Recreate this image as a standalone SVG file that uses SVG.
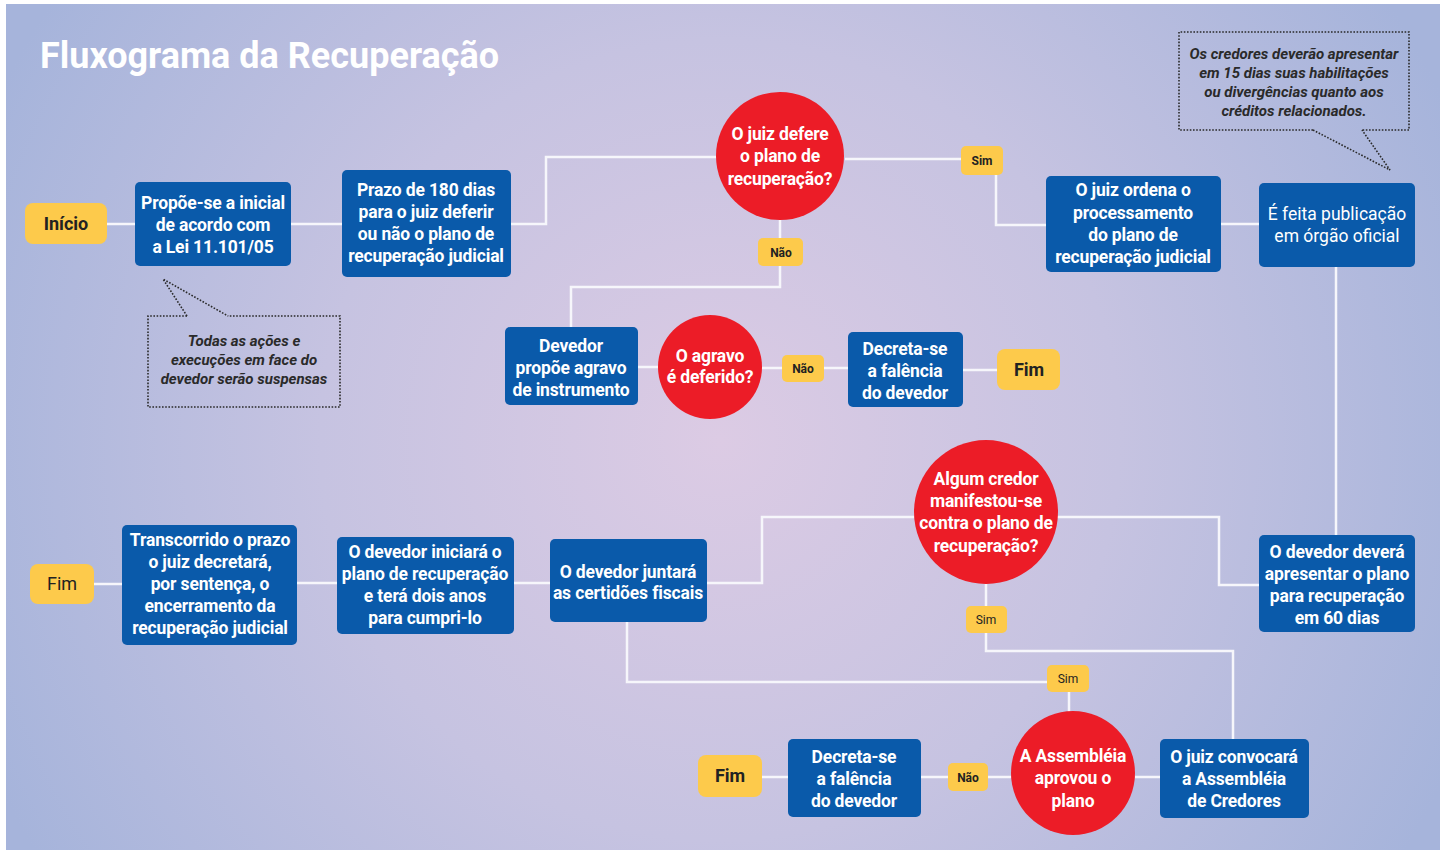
<svg xmlns="http://www.w3.org/2000/svg" width="1442" height="854" viewBox="0 0 1442 854">
<defs>
<radialGradient id="bg" gradientUnits="userSpaceOnUse" cx="720" cy="440" r="800">
<stop offset="0" stop-color="#dccbe4"/>
<stop offset="0.5" stop-color="#c6c3e1"/>
<stop offset="1" stop-color="#a6b4db"/>
</radialGradient>
<style>
.box{fill:#0a5aaa}
.dec{fill:#ec1c27}
.lab{fill:#fdca4b}
.ln{fill:none;stroke:#f6f6fb;stroke-width:2.5}
.dot{fill:none;stroke:#2a2a2a;stroke-width:1.6;stroke-dasharray:1.6 1.6}
.bt{font-family:Roboto,"Liberation Sans",sans-serif;font-weight:700;font-size:17.5px;letter-spacing:-0.15px;fill:#fff;text-anchor:middle}
.rt{font-family:Roboto,"Liberation Sans",sans-serif;font-weight:400;font-size:17.5px;fill:#fff;text-anchor:middle}
.yt{font-family:Roboto,"Liberation Sans",sans-serif;font-weight:700;font-size:18px;fill:#222;text-anchor:middle}
.yr{font-family:Roboto,"Liberation Sans",sans-serif;font-weight:400;font-size:18px;fill:#222;text-anchor:middle}
.st{font-family:Roboto,"Liberation Sans",sans-serif;font-weight:700;font-size:12px;fill:#222;text-anchor:middle}
.sr{font-family:Roboto,"Liberation Sans",sans-serif;font-weight:400;font-size:12px;fill:#222;text-anchor:middle}
.ct{font-family:Roboto,"Liberation Sans",sans-serif;font-weight:700;font-style:italic;font-size:15px;fill:#2a2a2a;text-anchor:middle}
</style>
</defs>
<rect x="0" y="0" width="1442" height="854" fill="#ffffff"/>
<rect x="6" y="4" width="1434" height="846" fill="url(#bg)"/>
<text x="40" y="68" font-family="Roboto, 'Liberation Sans', sans-serif" font-weight="700" font-size="36" fill="#ffffff">Fluxograma da Recuperação</text>

<g id="connectors">
<path class="ln" d="M107 224H135"/>
<path class="ln" d="M291 224H342"/>
<path class="ln" d="M511 224H546V157H716"/>
<path class="ln" d="M845 159H961"/>
<path class="ln" d="M996 175V225H1046"/>
<path class="ln" d="M1221 224H1259"/>
<path class="ln" d="M1336 267V535"/>
<path class="ln" d="M1259 585H1219V517H1057"/>
<path class="ln" d="M914 517H762V583H707"/>
<path class="ln" d="M550 583H514"/>
<path class="ln" d="M337 583H297"/>
<path class="ln" d="M122 584H94"/>
<path class="ln" d="M986 584V606"/>
<path class="ln" d="M986 633V651H1233V739"/>
<path class="ln" d="M1160 777H1135"/>
<path class="ln" d="M1069 713V692"/>
<path class="ln" d="M1047 682H627V622"/>
<path class="ln" d="M1011 777H988"/>
<path class="ln" d="M948 777H921"/>
<path class="ln" d="M788 777H762"/>
<path class="ln" d="M780 220V238"/>
<path class="ln" d="M780 266V287H571V327"/>
<path class="ln" d="M638 367H658"/>
<path class="ln" d="M762 368H782"/>
<path class="ln" d="M824 368H848"/>
<path class="ln" d="M963 370H997"/>
</g>

<g id="inicio"><rect class="lab" x="25" y="203" width="82" height="41" rx="8"/><text class="yt" x="66" y="230">Início</text></g>

<g id="propoe"><rect class="box" x="135" y="182" width="156" height="84" rx="5"/>
<text class="bt"><tspan x="213" y="209">Propõe-se a inicial</tspan><tspan x="213" y="231">de acordo com</tspan><tspan x="213" y="253">a Lei 11.101/05</tspan></text></g>

<g id="prazo"><rect class="box" x="342" y="170" width="169" height="107" rx="5"/>
<text class="bt"><tspan x="426" y="196">Prazo de 180 dias</tspan><tspan x="426" y="218">para o juiz deferir</tspan><tspan x="426" y="240">ou não o plano de</tspan><tspan x="426" y="262">recuperação judicial</tspan></text></g>

<g id="defere"><circle class="dec" cx="780" cy="156" r="64"/>
<text class="bt"><tspan x="780" y="140">O juiz defere</tspan><tspan x="780" y="162">o plano de</tspan><tspan x="780" y="185">recuperação?</tspan></text></g>

<g id="sim1"><rect class="lab" x="961" y="146" width="42" height="29" rx="5"/><text class="st" x="982" y="165">Sim</text></g>

<g id="ordena"><rect class="box" x="1046" y="176" width="175" height="96" rx="5"/>
<text class="bt"><tspan x="1133" y="196">O juiz ordena o</tspan><tspan x="1133" y="219">processamento</tspan><tspan x="1133" y="241">do plano de</tspan><tspan x="1133" y="263">recuperação judicial</tspan></text></g>

<g id="publicacao"><rect class="box" x="1259" y="183" width="156" height="84" rx="5"/>
<text class="rt"><tspan x="1337" y="220">É feita publicação</tspan><tspan x="1337" y="242">em órgão oficial</tspan></text></g>

<g id="nao1"><rect class="lab" x="758" y="238" width="45" height="28" rx="5"/><text class="st" x="781" y="257">Não</text></g>

<g id="devedor-agravo"><rect class="box" x="505" y="327" width="133" height="78" rx="5"/>
<text class="bt"><tspan x="571" y="352">Devedor</tspan><tspan x="571" y="374">propõe agravo</tspan><tspan x="571" y="396">de instrumento</tspan></text></g>

<g id="agravo"><circle class="dec" cx="710" cy="367" r="52"/>
<text class="bt"><tspan x="710" y="362">O agravo</tspan><tspan x="710" y="383">é deferido?</tspan></text></g>

<g id="nao2"><rect class="lab" x="782" y="355" width="42" height="27" rx="5"/><text class="st" x="803" y="373">Não</text></g>

<g id="falencia1"><rect class="box" x="848" y="332" width="115" height="75" rx="5"/>
<text class="bt"><tspan x="905" y="355">Decreta-se</tspan><tspan x="905" y="377">a falência</tspan><tspan x="905" y="399">do devedor</tspan></text></g>

<g id="fim1"><rect class="lab" x="997" y="349" width="63" height="41" rx="8"/><text class="yt" x="1029" y="376">Fim</text></g>

<g id="nota1">
<path class="dot" d="M187 316H148V407H340V316H228"/>
<path class="dot" d="M187 316L163 279L228 316"/>
<text class="ct"><tspan x="244" y="346">Todas as ações e</tspan><tspan x="244" y="365">execuções em face do</tspan><tspan x="244" y="384">devedor serão suspensas</tspan></text></g>

<g id="nota2">
<path class="dot" d="M1313 130H1179V32H1409V130H1362"/>
<path class="dot" d="M1313 130L1390 170L1362 130"/>
<text class="ct"><tspan x="1294" y="59">Os credores deverão apresentar</tspan><tspan x="1294" y="78">em 15 dias suas habilitações</tspan><tspan x="1294" y="97">ou divergências quanto aos</tspan><tspan x="1294" y="116">créditos relacionados.</tspan></text></g>

<g id="apresentar"><rect class="box" x="1259" y="535" width="156" height="97" rx="5"/>
<text class="bt"><tspan x="1337" y="558">O devedor deverá</tspan><tspan x="1337" y="580">apresentar o plano</tspan><tspan x="1337" y="602">para recuperação</tspan><tspan x="1337" y="624">em 60 dias</tspan></text></g>

<g id="credor"><circle class="dec" cx="986" cy="512" r="72"/>
<text class="bt"><tspan x="986" y="485">Algum credor</tspan><tspan x="986" y="507">manifestou-se</tspan><tspan x="986" y="529">contra o plano de</tspan><tspan x="986" y="552">recuperação?</tspan></text></g>

<g id="juntara"><rect class="box" x="550" y="539" width="157" height="83" rx="5"/>
<text class="bt"><tspan x="628" y="578">O devedor juntará</tspan><tspan x="628" y="599">as certidões fiscais</tspan></text></g>

<g id="iniciara"><rect class="box" x="337" y="537" width="177" height="97" rx="5"/>
<text class="bt"><tspan x="425" y="558">O devedor iniciará o</tspan><tspan x="425" y="580">plano de recuperação</tspan><tspan x="425" y="602">e terá dois anos</tspan><tspan x="425" y="624">para cumpri-lo</tspan></text></g>

<g id="transcorrido"><rect class="box" x="122" y="525" width="175" height="120" rx="5"/>
<text class="bt"><tspan x="210" y="546">Transcorrido o prazo</tspan><tspan x="210" y="568">o juiz decretará,</tspan><tspan x="210" y="590">por sentença, o</tspan><tspan x="210" y="612">encerramento da</tspan><tspan x="210" y="634">recuperação judicial</tspan></text></g>

<g id="fim2"><rect class="lab" x="30" y="564" width="64" height="40" rx="8"/><text class="yr" x="62" y="590">Fim</text></g>

<g id="sim2"><rect class="lab" x="966" y="606" width="41" height="27" rx="5"/><text class="sr" x="986" y="624">Sim</text></g>

<g id="sim3"><rect class="lab" x="1047" y="665" width="42" height="27" rx="5"/><text class="sr" x="1068" y="683">Sim</text></g>

<g id="assembleia"><circle class="dec" cx="1073" cy="773" r="62"/>
<text class="bt"><tspan x="1073" y="762">A Assembléia</tspan><tspan x="1073" y="784">aprovou o</tspan><tspan x="1073" y="807">plano</tspan></text></g>

<g id="convocara"><rect class="box" x="1160" y="739" width="149" height="79" rx="5"/>
<text class="bt"><tspan x="1234" y="763">O juiz convocará</tspan><tspan x="1234" y="785">a Assembléia</tspan><tspan x="1234" y="807">de Credores</tspan></text></g>

<g id="nao3"><rect class="lab" x="948" y="763" width="40" height="28" rx="5"/><text class="st" x="968" y="782">Não</text></g>

<g id="falencia2"><rect class="box" x="788" y="739" width="133" height="78" rx="5"/>
<text class="bt"><tspan x="854" y="763">Decreta-se</tspan><tspan x="854" y="785">a falência</tspan><tspan x="854" y="807">do devedor</tspan></text></g>

<g id="fim3"><rect class="lab" x="698" y="755" width="64" height="42" rx="8"/><text class="yt" x="730" y="782">Fim</text></g>
</svg>
